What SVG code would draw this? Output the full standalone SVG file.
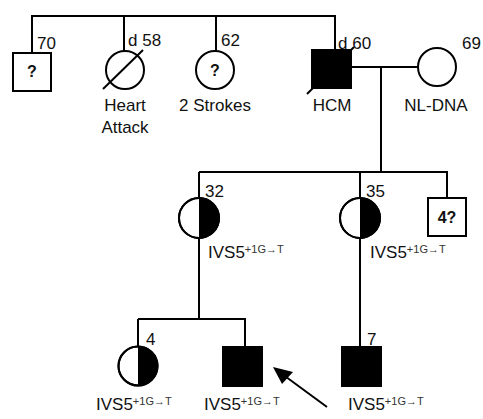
<svg xmlns="http://www.w3.org/2000/svg" width="483" height="419" viewBox="0 0 483 419">
<defs>
<style>
.ln{stroke:#000;stroke-width:2;fill:none}
.nd{stroke:#000;stroke-width:2;fill:#fff}
.fill{stroke:#000;stroke-width:2;fill:#000}
text{font-family:"Liberation Sans",Arial,sans-serif;font-size:17px;fill:#111}
.q{font-weight:bold;font-size:16px;text-anchor:middle}
.c{text-anchor:middle}
.sup{font-size:11px;fill:#333}
</style>
</defs>
<rect width="483" height="419" fill="#fff"/>
<g id="connectors">
<path class="ln" d="M32,53 V16 H335 V50 M124,16 V51 M216,16 V51"/>
<path class="ln" d="M351,67 H418 M381,67 V172 M199,172 H447 V198 M199,172 V198 M360,172 V198"/>
<path class="ln" d="M199,238 V319 M138,319 H245 V347 M138,319 V347 M360,238 V347"/>
<line x1="327" y1="407" x2="278" y2="371" stroke="#000" stroke-width="2"/>
<path d="M273,367 L282,384 L293,372 Z" fill="#000"/>
</g>
<g id="n70">
<rect class="nd" x="13" y="53" width="38" height="38"/>
<text class="q" x="32" y="77">?</text>
<text x="37" y="49">70</text>
</g>
<g id="n58">
<circle class="nd" cx="125" cy="70" r="19"/>
<line class="ln" x1="103" y1="89" x2="143" y2="50"/>
<text x="128" y="46">d 58</text>
<text class="c" x="125" y="111">Heart</text>
<text class="c" x="125" y="133">Attack</text>
</g>
<g id="n62">
<circle class="nd" cx="215" cy="70" r="19"/>
<text class="q" x="215" y="76">?</text>
<text x="221" y="46">62</text>
<text class="c" x="215" y="111">2 Strokes</text>
</g>
<g id="n60">
<rect class="fill" x="312" y="50" width="39" height="38"/>
<line class="ln" x1="307" y1="94" x2="354" y2="47"/>
<text x="338" y="49">d 60</text>
<text class="c" x="332" y="111">HCM</text>
</g>
<g id="n69">
<circle class="nd" cx="437" cy="67" r="19"/>
<text x="462" y="49">69</text>
<text class="c" x="436" y="111">NL-DNA</text>
</g>
<g id="n32">
<circle class="nd" cx="199" cy="218" r="20"/>
<path d="M199,198 A20,20 0 0 1 199,238 Z" fill="#000"/>
<circle class="ln" cx="199" cy="218" r="20"/>
<text x="205" y="197">32</text>
<text x="208" y="258">IVS5<tspan class="sup" dy="-5">+1G→T</tspan></text>
</g>
<g id="n35">
<circle class="nd" cx="360" cy="218" r="20"/>
<path d="M360,198 A20,20 0 0 1 360,238 Z" fill="#000"/>
<circle class="ln" cx="360" cy="218" r="20"/>
<text x="366" y="197">35</text>
<text x="370" y="258">IVS5<tspan class="sup" dy="-5">+1G→T</tspan></text>
</g>
<g id="n4q">
<rect class="nd" x="428" y="198" width="38" height="38"/>
<text class="q" x="447" y="223">4?</text>
</g>
<g id="n4">
<circle class="nd" cx="138" cy="366" r="19.5"/>
<path d="M138,346.5 A19.5,19.5 0 0 1 138,385.5 Z" fill="#000"/>
<circle class="ln" cx="138" cy="366" r="19.5"/>
<text x="146" y="345">4</text>
<text x="96" y="410">IVS5<tspan class="sup" dy="-5">+1G→T</tspan></text>
</g>
<g id="proband">
<rect class="fill" x="223" y="347" width="39" height="39"/>
<text x="204" y="410">IVS5<tspan class="sup" dy="-5">+1G→T</tspan></text>
</g>
<g id="n7">
<rect class="fill" x="342" y="347" width="39" height="39"/>
<text x="367" y="345">7</text>
<text x="348" y="410">IVS5<tspan class="sup" dy="-5">+1G→T</tspan></text>
</g>
</svg>
